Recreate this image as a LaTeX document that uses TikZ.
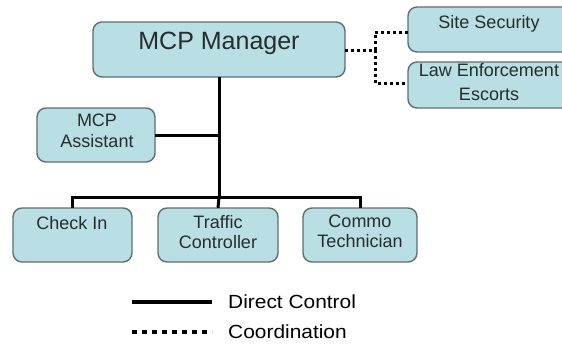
\documentclass[tikz,border=0pt]{standalone}
\usepackage{fontspec}
\setmainfont{Liberation Sans}
\definecolor{boxfill}{RGB}{185,222,227}
\definecolor{boxline}{RGB}{95,110,112}
\definecolor{boxtext}{RGB}{36,46,48}
\begin{document}
\begin{tikzpicture}[x=1pt,y=-1pt,
  orgbox/.style={draw=boxline,line width=1.4pt,fill=boxfill,rounded corners=9pt,inner sep=0pt},
  boxlabel/.style={anchor=north,inner sep=0pt,align=center,text=boxtext,
    font=\fontsize{18}{21}\selectfont},
  direct/.style={line width=3pt},
  coord/.style={line width=3pt,dash pattern=on 3pt off 3pt}]
\useasboundingbox (0,0) rectangle (562,343);
\clip (0,0) rectangle (562,343);

% boxes
\path[orgbox] (93,22) rectangle (345,77);
\node[inner sep=0pt,minimum width=252pt,minimum height=55pt] (mgr) at (219,49.5) {};
\path[orgbox] (408,7) rectangle (572,52);
\node[inner sep=0pt,minimum width=164pt,minimum height=45pt] (site) at (490,29.5) {};
\path[orgbox] (408,62) rectangle (572,108);
\node[inner sep=0pt,minimum width=164pt,minimum height=46pt] (law) at (490,85) {};
\path[orgbox] (37,108) rectangle (155,162);
\node[inner sep=0pt,minimum width=118pt,minimum height=54pt] (asst) at (96,135) {};
\path[orgbox] (13,208) rectangle (132,262);
\node[inner sep=0pt,minimum width=119pt,minimum height=54pt] (check) at (72.5,235) {};
\path[orgbox] (158,208) rectangle (278,262);
\node[inner sep=0pt,minimum width=120pt,minimum height=54pt] (traffic) at (218,235) {};
\path[orgbox] (303,208) rectangle (417,262);
\node[inner sep=0pt,minimum width=114pt,minimum height=54pt] (commo) at (360,235) {};

% labels
\node[boxlabel,font=\fontsize{25}{29}\selectfont] (tmgr) at (219,32) {MCP Manager};
\node[boxlabel] (tsite) at (489,15) {Site Security};
\node[boxlabel,font=\fontsize{18}{24}\selectfont] (tlaw) at (489,63) {Law Enforcement\\Escorts};
\node[boxlabel] (tasst) at (97,114) {MCP\\Assistant};
\node[boxlabel] (tcheck) at (72,216) {Check In};
\node[boxlabel,font=\fontsize{18}{20}\selectfont] (ttraffic) at (218,215) {Traffic\\Controller};
\node[boxlabel,font=\fontsize{18}{20}\selectfont] (tcommo) at (360,215) {Commo\\Technician};

% direct control lines
\coordinate (bar) at (219,197);
\draw[direct] (mgr.south) -- (bar);
\draw[direct] (asst.east) -- (asst.east -| mgr.south);
\draw[direct] (check.north) |- (bar) -| (commo.north);
\draw[direct] (bar) -- (traffic.north);

% coordination lines
\coordinate (split) at (375,50);
\draw[coord] (mgr.east |- split) -- (split);
\draw[coord] (split) -- (375,32) -- (site.west |- 0,32);
\draw[coord] (split) -- (375,83) -- (law.west |- 0,83);

% legend
\coordinate (lg1a) at (132,302);
\coordinate (lg1b) at (212,302);
\coordinate (lg2a) at (132,332);
\coordinate (lg2b) at (212,332);
\draw[line width=4pt] (lg1a) -- (lg1b);
\draw[line width=4pt,dash pattern=on 5pt off 5pt] (lg2a) -- (lg2b);
\node[anchor=base west,inner sep=0pt,font=\fontsize{19}{22}\selectfont,xscale=1.1] (ldirect) at (228,308) {Direct Control};
\node[anchor=base west,inner sep=0pt,font=\fontsize{19}{22}\selectfont,xscale=1.1] (lcoord) at (228,338) {Coordination};
\end{tikzpicture}
\end{document}
